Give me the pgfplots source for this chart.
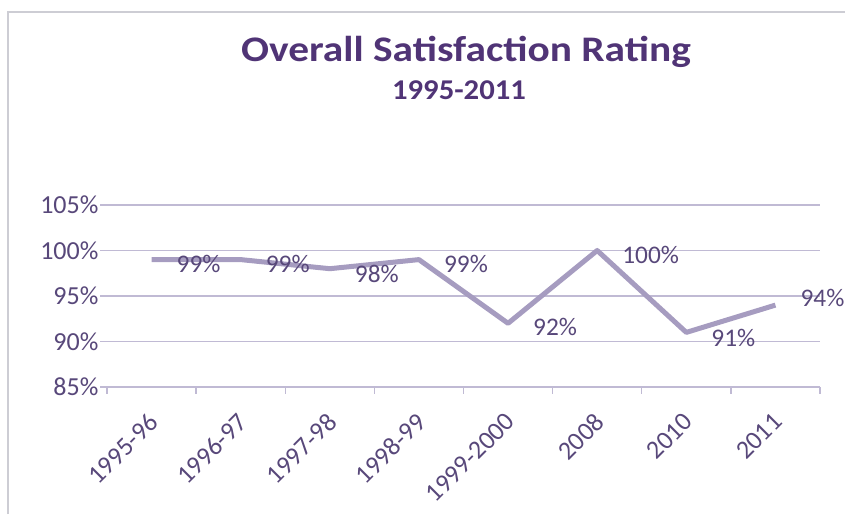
\documentclass[border=0pt]{standalone}
\usepackage{fontspec}
\setmainfont{Carlito}
\usepackage{pgfplots}
\pgfplotsset{compat=1.18}
\definecolor{txt}{RGB}{88,72,122}
\definecolor{ttl}{RGB}{80,52,118}
\definecolor{grd}{RGB}{192,186,212}
\definecolor{ln}{RGB}{166,156,192}
\definecolor{frm}{RGB}{205,205,212}
\begin{document}
\begin{tikzpicture}
\path[use as bounding box] (0,0) rectangle (633.75pt,385.5pt);
\draw[frm, line width=1.5pt] (6pt,0) -- (6pt,376.5pt) -- (633.75pt,376.5pt);
\node[anchor=base, text=ttl, font=\fontsize{27}{32}\selectfont\bfseries, inner sep=0pt, xscale=1.15] at (349.5pt,339pt) {Overall Satisfaction Rating};
\node[anchor=base, text=ttl, font=\fontsize{21.5}{25}\selectfont\bfseries, inner sep=0pt, xscale=1.07] at (344.25pt,310.5pt) {1995-2011};
\begin{axis}[
  at={(80.25pt,95.25pt)}, anchor=south west,
  scale only axis, width=534.75pt, height=136.5pt,
  xmin=-0.5, xmax=7.5, ymin=85, ymax=105,
  /pgf/number format/assume math mode=true,
  axis x line*=bottom, axis y line*=left,
  y axis line style={draw=none},
  x axis line style={grd, line width=1pt, -},
  xtick={0,...,7},
  xticklabels={1995-96,1996-97,1997-98,1998-99,1999-2000,2008,2010,2011},
  minor xtick={-0.5,0.5,...,7.5},
  x tick style={grd, line width=1pt},
  major x tick style={draw=none},
  tick align=outside,
  major tick length=5.25pt, minor tick length=5pt,
  ytick={85,90,95,100,105},
  yticklabels={85\%,90\%,95\%,100\%,105\%},
  y tick style={grd, line width=1pt},
  ymajorgrids, major grid style={grd, line width=1pt},
  tick label style={text=txt, font=\fontsize{19.5}{22}\selectfont},
  yticklabel style={anchor=east, inner sep=0pt, xshift=-1pt},
  xticklabel style={xshift=-3pt, yshift=-13pt, rotate=45, anchor=north east, inner sep=0pt},
  clip=false,
]
\addplot[ln, line width=3.75pt, line join=round,
  nodes near coords={\pgfmathprintnumber{\pgfplotspointmeta}\%},
  point meta=explicit,
  visualization depends on={\thisrow{dy} \as \dy},
  nodes near coords style={anchor=west, inner sep=0pt, xshift=17pt, yshift=\dy pt, text=txt, font=\fontsize{19}{22}\selectfont},
] table[meta=y] {
x y dy
0 99 -3
1 99 -3
2 98 -4
3 99 -3
4 92 -3
5 100 -3
6 91 -4
7 94 5
};
\end{axis}
\end{tikzpicture}
\end{document}
